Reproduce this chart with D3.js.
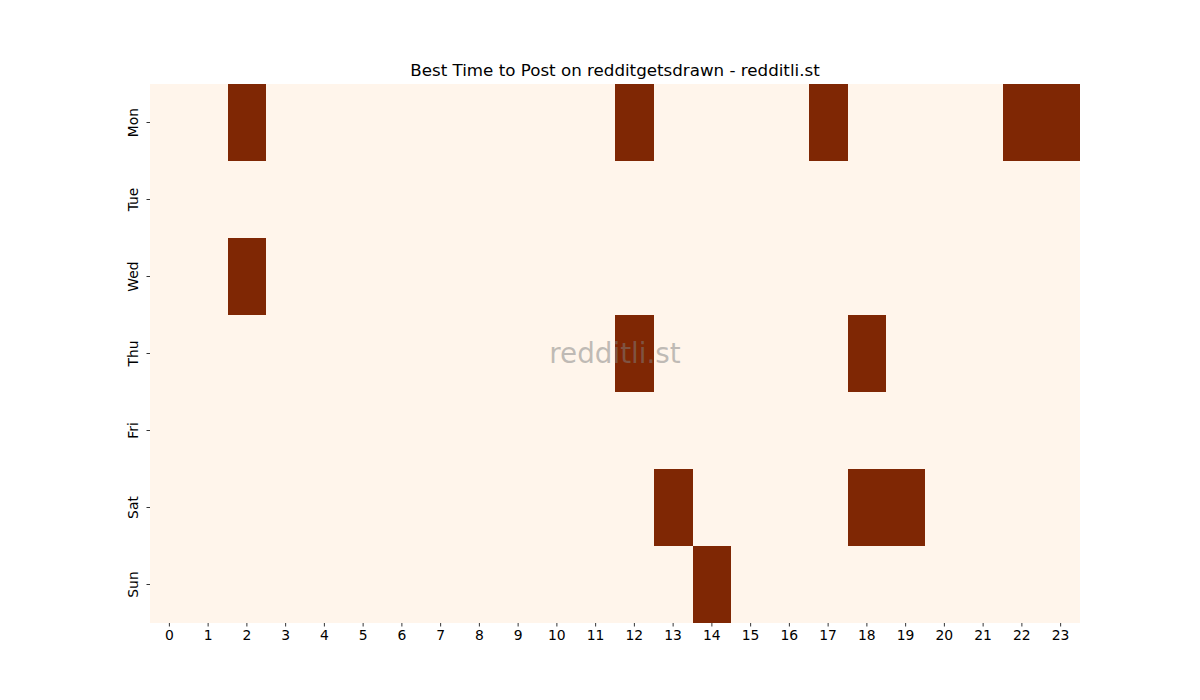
<!DOCTYPE html>
<html>
<head>
<meta charset="utf-8">
<script src="https://cdn.jsdelivr.net/npm/d3@7"></script>
<style>
  body { margin: 0; background: #fff; }
  text { font-family: "DejaVu Sans", sans-serif; }
</style>
</head>
<body>
<div id="container"></div>
<script>
/* DATA */
const days = ["Mon", "Tue", "Wed", "Thu", "Fri", "Sat", "Sun"]
const hours = d3.range(24).map(String)
// hours marked as best time, per day
const monMarked = [2, 12, 17, 22, 23]
const tueMarked = []
const wedMarked = [2]
const thuMarked = [12, 18]
const friMarked = []
const satMarked = [13, 18, 19]
const sunMarked = [14]
const marked = [monMarked, tueMarked, wedMarked, thuMarked, friMarked, satMarked, sunMarked]

/* CONSTANTS */
const width = 1200, height = 700
const margin = { top: 84, bottom: 77, left: 150, right: 120 }

const cells = []
days.forEach((day, i) => {
  hours.forEach((h, j) => {
    cells.push({ day, hour: h, value: marked[i].includes(j) ? 1 : 0 })
  })
})

// SCALES
const xScale = d3.scaleBand()
  .domain(hours)
  .range([margin.left, width - margin.right])
  .paddingInner(0)

const yScale = d3.scaleBand()
  .domain(days)
  .range([margin.top, height - margin.bottom])
  .paddingInner(0)

const color = d3.scaleLinear()
  .domain([0, 1])
  .range(["#fff5eb", "#7f2704"])

// SVG
const svg = d3.select("#container")
  .append("svg")
  .attr("width", width)
  .attr("height", height)

// DRAW CELLS
svg.selectAll("rect.cell")
  .data(cells)
  .join("rect")
  .attr("class", "cell")
  .attr("x", d => xScale(d.hour))
  .attr("y", d => yScale(d.day))
  .attr("width", xScale.bandwidth())
  .attr("height", yScale.bandwidth())
  .attr("fill", d => color(d.value))
  .attr("shape-rendering", "crispEdges")

// AXES
const xAxis = svg.append("g")
  .attr("transform", `translate(0,${height - margin.bottom})`)
  .call(d3.axisBottom(xScale).tickSize(3.5).tickPadding(4))
xAxis.select(".domain").remove()
xAxis.selectAll("text").attr("font-size", 13.9).attr("fill", "#000").attr("font-family", "DejaVu Sans")
xAxis.selectAll("line").attr("stroke", "#000").attr("stroke-width", 0.8)

const yAxis = svg.append("g")
  .attr("transform", `translate(${margin.left},0)`)
  .call(d3.axisLeft(yScale).tickSize(3.5).tickPadding(4))
yAxis.select(".domain").remove()
yAxis.selectAll("line").attr("stroke", "#000").attr("stroke-width", 0.8)
yAxis.selectAll("text")
  .attr("font-size", 13.9)
  .attr("fill", "#000")
  .attr("font-family", "DejaVu Sans")
  .attr("x", null)
  .attr("dy", null)
  .attr("text-anchor", "middle")
  .attr("transform", "translate(-12,0) rotate(-90)")

// TITLE
svg.append("text")
  .attr("x", (margin.left + width - margin.right) / 2)
  .attr("y", 76)
  .attr("text-anchor", "middle")
  .attr("font-size", 16.7)
  .text("Best Time to Post on redditgetsdrawn - redditli.st")

// WATERMARK
svg.append("text")
  .attr("x", (margin.left + width - margin.right) / 2)
  .attr("y", (margin.top + height - margin.bottom) / 2)
  .attr("text-anchor", "middle")
  .attr("dominant-baseline", "central")
  .attr("font-size", 27.8)
  .attr("fill", "#808080")
  .attr("fill-opacity", 0.5)
  .text("redditli.st")
</script>
</body>
</html>
